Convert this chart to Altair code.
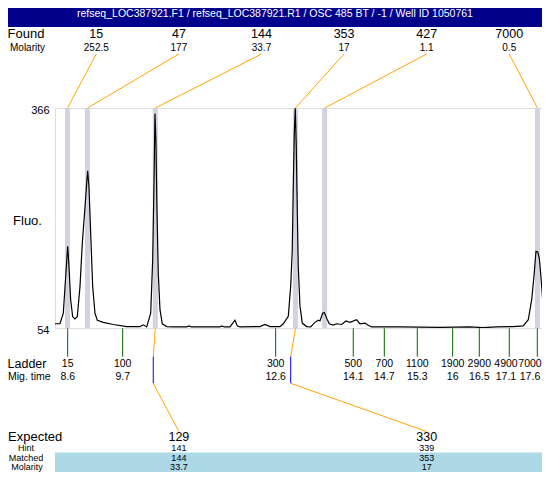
import altair as alt
import pandas as pd

# ---------------- data ----------------
TITLE = "refseq_LOC387921.F1 / refseq_LOC387921.R1 / OSC 485 BT / -1 / Well ID 1050761"

# electropherogram trace (migration time in s, fluorescence)
trace_time = [8.357, 8.452, 8.516, 8.562, 8.600, 8.625, 8.657, 8.696, 8.740, 8.784,
              8.836, 8.880, 8.932, 8.964, 8.983, 9.008, 9.041, 9.079, 9.123, 9.167,
              9.282, 9.474, 9.731, 9.986, 10.049, 10.114, 10.191, 10.229, 10.254, 10.273,
              10.292, 10.311, 10.336, 10.369, 10.413, 10.497, 10.624, 10.880, 10.925, 10.970,
              11.519, 11.551, 11.600, 11.710, 11.806, 11.850, 11.900, 12.285, 12.381, 12.477,
              12.669, 12.732, 12.828, 12.874, 12.904, 12.923, 12.943, 12.962, 12.981, 13.000,
              13.019, 13.052, 13.096, 13.180, 13.257, 13.339, 13.403, 13.435, 13.487, 13.518,
              13.563, 13.613, 13.690, 13.755, 13.851, 13.933, 14.010, 14.138, 14.202, 14.297,
              14.361, 14.426, 14.968, 15.735, 16.310, 16.559, 16.821, 17.139, 17.331, 17.427,
              17.492, 17.536, 17.574, 17.607, 17.638, 17.664, 17.703, 17.733, 17.766, 17.843]
trace_fluo = [60, 60, 75, 127, 170, 141, 94, 70, 67, 70,
              113, 174, 226, 259, 277, 254, 188, 113, 75, 65,
              62, 59, 56, 56, 58.5, 55.5, 75, 151, 259, 358,
              316, 221, 132, 80, 60, 56, 55.5, 55.5, 57, 55.5,
              55.5, 57, 55.5, 55.5, 65, 57, 55.5, 56, 59, 56,
              56, 60, 70.5, 113, 165, 254, 330, 365.5, 311, 221,
              141, 85, 61, 56, 55.5, 62, 65, 64, 75, 76,
              68, 60, 58, 60, 59, 64, 62, 65.7, 60, 61,
              58, 55.5, 55.5, 55, 55.5, 54.5, 55.5, 56, 57, 65.7,
              94, 127, 162.5, 162, 153, 132, 94, 65.7, 60, 60]

# found peaks
found_size = [15, 47, 144, 353, 427, 7000]
found_molarity = ["252.5", "177", "33.7", "17", "1.1", "0.5"]
found_time = [8.596, 8.979, 10.279, 12.965, 13.525, 17.603]

# ladder
ladder_size = [15, 100, 300, 500, 700, 1100, 1900, 2900, 4900, 7000]
ladder_time = [8.600, 9.654, 12.586, 14.073, 14.668, 15.300, 15.978, 16.488, 17.063, 17.600]
ladder_mig_label = ["8.6", "9.7", "12.6", "14.1", "14.7", "15.3", "16", "16.5", "17.1", "17.6"]

# expected products
expected_size = [129, 330]
expected_hint = [141, 339]
matched_size = [144, 353]
matched_molarity = ["33.7", "17"]
matched_time = [10.279, 12.965]
expected_time = [10.240, 12.874]

# ---------------- layout ----------------
T0, T_END = 8.357, 17.854      # full time window of the run (annotation slots span it)
T1 = 17.690                    # visible right edge (the page is a little narrower)
EDGE_PAD = 0.23                # keep edge labels inside the page
LABEL_GAP = 0.46               # min spacing between ladder labels (in s)
Y0, Y1 = 54, 366
W, H = 487, 220
FONT = "Liberation Sans"
ORANGE = "#ffa500"

xs = alt.Scale(domain=[T0, T1], nice=False, zero=False)
ys = alt.Scale(domain=[Y0, Y1], nice=False, zero=False)


def slots(n):
    return [T0 + (T_END - T0) * (i + 0.5) / n for i in range(n)]


def label_positions(times):
    pos = list(times)
    limit = T1 - EDGE_PAD
    for i in range(len(pos) - 1, -1, -1):
        pos[i] = min(pos[i], limit)
        limit = pos[i] - LABEL_GAP
    return pos


found_df = pd.DataFrame({"size": found_size, "mol": found_molarity,
                         "t": found_time, "slot": slots(len(found_size))})
ladder_df = pd.DataFrame({"size": ladder_size, "t": ladder_time, "mig": ladder_mig_label,
                          "lx": label_positions(ladder_time)})
exp_df = pd.DataFrame({"exp": expected_size, "hint": expected_hint, "matched": matched_size,
                       "mol": matched_molarity, "mt": matched_time, "et": expected_time,
                       "slot": slots(len(expected_size))})
trace_df = pd.DataFrame({"t": trace_time, "f": trace_fluo})
span_df = pd.DataFrame({"a": [T0], "b": [T1]})


def X(field):
    return alt.X(field, scale=xs, axis=None)


def label(text, x, y, size, align="center", color="black"):
    return alt.Chart(pd.DataFrame({"s": [text]})).mark_text(
        font=FONT, fontSize=size, align=align, baseline="middle", color=color
    ).encode(x=alt.value(x), y=alt.value(y), text="s:N")


def values_row(df, field, y, size):
    return alt.Chart(df).mark_text(font=FONT, fontSize=size, baseline="middle", color="black").encode(
        x=X("slot:Q"), y=alt.value(y), text=f"{field}:N")


bands = alt.Chart(found_df).mark_rule(color="#d2d2e0", strokeWidth=5).encode(x=X("t:Q"))

trace = alt.Chart(trace_df).mark_line(color="black", strokeWidth=1.2, clip=True).encode(
    x=X("t:Q"),
    y=alt.Y("f:Q", scale=ys, axis=alt.Axis(
        values=[54, 366], title="Fluo.", grid=False, domain=False, ticks=False, tickSize=0,
        labelPadding=6, labelFontSize=11, labelFont=FONT, labelColor="black", labelOffset=2,
        labelFlush=False, titleAngle=0, titleX=-28, titleY=112, titleAlign="center",
        titleBaseline="middle", titleFont=FONT, titleFontSize=13, titleFontWeight="normal",
        titleColor="black")),
)

title_bar = alt.Chart(pd.DataFrame({"s": [1]})).mark_rect(color="#00008b").encode(
    x=alt.value(-47), x2=alt.value(W), y=alt.value(-100), y2=alt.value(-81))
title_txt = label(TITLE, 220, -94.5, 10.5, color="white")

found_lbl = label("Found", -29, -74.5, 13)
found_mol_lbl = label("Molarity", -27.5, -60.5, 10)
found_vals = values_row(found_df, "size", -74.5, 12.5)
found_mols = values_row(found_df, "mol", -60.5, 10)
upper_conn = alt.Chart(found_df).mark_rule(color=ORANGE, strokeWidth=1).encode(
    x=X("slot:Q"), x2="t:Q", y=alt.value(-54), y2=alt.value(0))

ladder_ticks = alt.Chart(ladder_df).mark_rule(color="#006400", strokeWidth=1).encode(
    x=X("t:Q"), y=alt.value(220.3), y2=alt.value(248.7))
ladder_vals = alt.Chart(ladder_df).mark_text(font=FONT, fontSize=10.5, baseline="middle").encode(
    x=X("lx:Q"), y=alt.value(255.5), text="size:N")
mig_vals = alt.Chart(ladder_df).mark_text(font=FONT, fontSize=10.5, baseline="middle").encode(
    x=X("lx:Q"), y=alt.value(268.7), text="mig:N")
ladder_lbl = label("Ladder", -28, 255.5, 12.5)
mig_lbl = label("Mig. time", -47, 268.7, 10.5, align="left")

low1 = alt.Chart(exp_df).mark_rule(color=ORANGE).encode(
    x=X("mt:Q"), x2="et:Q", y=alt.value(220.3), y2=alt.value(248.7))
low2 = alt.Chart(exp_df).mark_rule(color="#0000ff").encode(
    x=X("et:Q"), y=alt.value(248.7), y2=alt.value(275.3))
low3 = alt.Chart(exp_df).mark_rule(color=ORANGE).encode(
    x=X("et:Q"), x2="slot:Q", y=alt.value(275.3), y2=alt.value(323.5))

blue_band = alt.Chart(span_df).mark_rect(color="#add8e6").encode(
    x=X("a:Q"), x2="b:Q", y=alt.value(344.5), y2=alt.value(364))

exp_lbl = label("Expected", -47, 329, 13, align="left")
hint_lbl = label("Hint", -29, 340, 9)
matched_lbl = label("Matched", -29, 350, 9)
mol_lbl = label("Molarity", -28, 359, 9)
exp_vals = values_row(exp_df, "exp", 329, 12.5)
hint_vals = values_row(exp_df, "hint", 340, 9)
matched_vals = values_row(exp_df, "matched", 350, 9)
mol_vals = values_row(exp_df, "mol", 359, 9)

chart = alt.layer(
    bands, trace, title_bar, title_txt,
    found_lbl, found_mol_lbl, found_vals, found_mols, upper_conn,
    ladder_ticks, ladder_vals, mig_vals, ladder_lbl, mig_lbl,
    low1, low2, low3, blue_band,
    exp_lbl, hint_lbl, matched_lbl, mol_lbl, exp_vals, hint_vals, matched_vals, mol_vals,
).properties(
    width=W, height=H, autosize="none",
    padding={"left": 47, "top": 100, "right": 0, "bottom": 144},
).configure_view(fill="#efeffb", stroke=None).configure(background="white")

chart.save("out.html", embed_options={"renderer": "svg", "actions": False})
